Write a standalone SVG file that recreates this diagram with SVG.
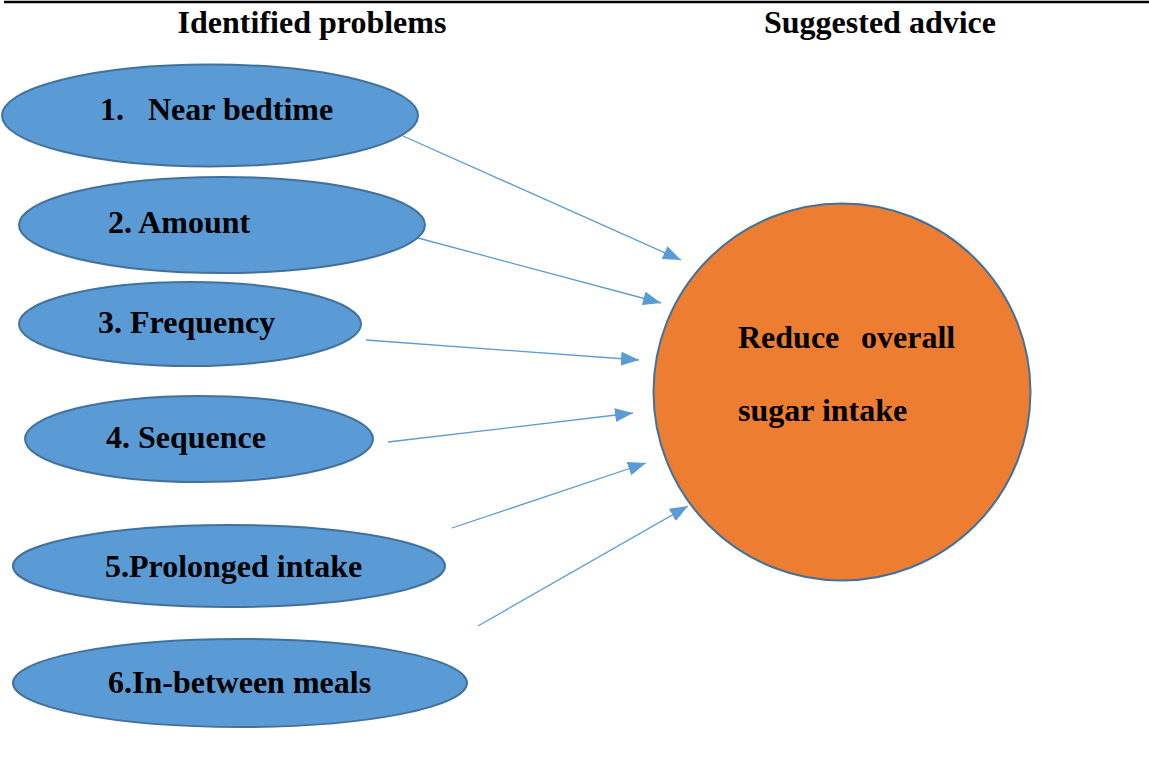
<svg xmlns="http://www.w3.org/2000/svg" width="1149" height="764" viewBox="0 0 1149 764">
<style>
.t{font-family:"Liberation Serif","Times New Roman",serif;font-weight:bold;font-size:32px;fill:#000}
.e{fill:#5B9BD5;stroke:#41719C;stroke-width:2}
.c{stroke:#5B9BD5;stroke-width:1.3;fill:none;marker-end:url(#ah)}
</style>
<defs>
<marker id="ah" markerUnits="userSpaceOnUse" markerWidth="20" markerHeight="14" refX="18" refY="7" orient="auto">
<path d="M0,0 L18,7 L0,14 Z" fill="#5B9BD5"/>
</marker>
</defs>
<rect width="1149" height="764" fill="#fff"/>
<line x1="4" y1="2" x2="1149" y2="2" stroke="#000" stroke-width="2.5"/>
<text class="t" x="312" y="33" text-anchor="middle">Identified problems</text>
<text class="t" x="880" y="33" text-anchor="middle">Suggested advice</text>
<g id="connectors">
<line class="c" x1="403" y1="136" x2="681" y2="260"/>
<line class="c" x1="418" y1="238" x2="661" y2="303"/>
<line class="c" x1="366" y1="340" x2="639" y2="360"/>
<line class="c" x1="388" y1="442" x2="633" y2="413"/>
<line class="c" x1="452" y1="528" x2="646" y2="463"/>
<line class="c" x1="478" y1="626" x2="688" y2="506"/>
</g>
<g id="n1"><ellipse class="e" cx="210" cy="115.5" rx="208" ry="51"/><text class="t" y="120"><tspan x="100">1.</tspan><tspan x="148">Near bedtime</tspan></text></g>
<g id="n2"><ellipse class="e" cx="222" cy="225" rx="203" ry="48"/><text class="t" x="108" y="233">2. Amount</text></g>
<g id="n3"><ellipse class="e" cx="190" cy="324" rx="171" ry="42"/><text class="t" x="98" y="333">3. Frequency</text></g>
<g id="n4"><ellipse class="e" cx="199" cy="439" rx="174" ry="43"/><text class="t" x="106" y="448">4. Sequence</text></g>
<g id="n5"><ellipse class="e" cx="229" cy="566" rx="216" ry="41"/><text class="t" x="105" y="577">5.Prolonged intake</text></g>
<g id="n6"><ellipse class="e" cx="240" cy="683" rx="227" ry="44"/><text class="t" x="108" y="693">6.In-between meals</text></g>
<g id="advice"><circle cx="842" cy="392" r="188.5" fill="#ED7D31" stroke="#41719C" stroke-width="2"/>
<text class="t" y="348"><tspan x="738">Reduce</tspan><tspan x="861">overall</tspan></text>
<text class="t" x="738" y="421">sugar intake</text></g>
</svg>
